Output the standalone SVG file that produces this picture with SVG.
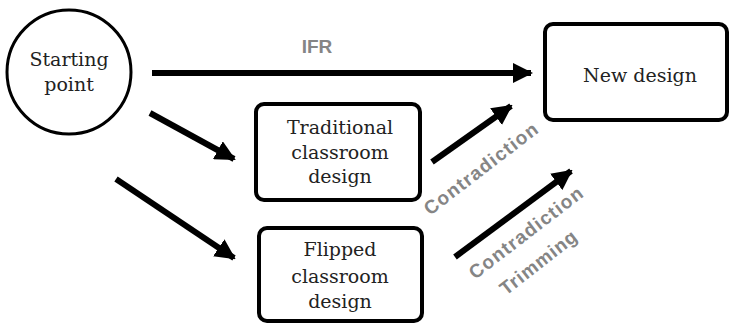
<svg xmlns="http://www.w3.org/2000/svg" width="731" height="323" viewBox="0 0 731 323">
<defs>
<style>
.node{fill:#fff;stroke:#000;stroke-width:4}
.nt{font-family:"DejaVu Serif","Liberation Serif",serif;font-size:19px;fill:#222;text-anchor:middle}
.lbl{font-family:"Liberation Sans",Arial,sans-serif;font-weight:bold;font-size:19px;fill:#858585}
.edge{stroke:#000;stroke-width:6;fill:none}
</style>
<marker id="ah" viewBox="0 0 10 10" refX="9" refY="5" markerWidth="3.4" markerHeight="3.4" markerUnits="strokeWidth" orient="auto">
<path d="M0,0 L10,5 L0,10 Z" fill="#000"/>
</marker>
</defs>
<rect width="731" height="323" fill="#fff"/>
<g id="start">
<circle cx="69" cy="72" r="62" fill="#fff" stroke="#000" stroke-width="3"/>
<text class="nt" x="69" y="66">Starting</text>
<text class="nt" x="69" y="91">point</text>
</g>
<g id="newdesign">
<rect class="node" x="545" y="24" width="182" height="96" rx="8"/>
<text class="nt" x="640" y="82">New design</text>
</g>
<g id="traditional">
<rect class="node" x="256" y="104" width="164" height="96" rx="8"/>
<text class="nt" x="340" y="134">Traditional</text>
<text class="nt" x="340" y="159">classroom</text>
<text class="nt" x="340" y="183">design</text>
</g>
<g id="flipped">
<rect class="node" x="259" y="228" width="163" height="93" rx="8"/>
<text class="nt" x="340" y="256">Flipped</text>
<text class="nt" x="340" y="283">classroom</text>
<text class="nt" x="340" y="308">design</text>
</g>
<g id="connectors">
<line class="edge" x1="152" y1="73" x2="531" y2="73" marker-end="url(#ah)"/>
<line class="edge" x1="150" y1="113" x2="234" y2="159" marker-end="url(#ah)"/>
<line class="edge" x1="116" y1="179" x2="234" y2="258" marker-end="url(#ah)"/>
<line class="edge" x1="432" y1="162" x2="511" y2="106" marker-end="url(#ah)"/>
<line class="edge" x1="455" y1="257" x2="571" y2="171" marker-end="url(#ah)"/>
<text class="lbl" x="317" y="53" text-anchor="middle">IFR</text>
<text class="lbl" transform="translate(430,216) rotate(-37.5)" textLength="138">Contradiction</text>
<text class="lbl" transform="translate(475,280) rotate(-37.5)" textLength="138">Contradiction</text>
<text class="lbl" transform="translate(506,296) rotate(-38)" textLength="92">Trimming</text>
</g>
</svg>
